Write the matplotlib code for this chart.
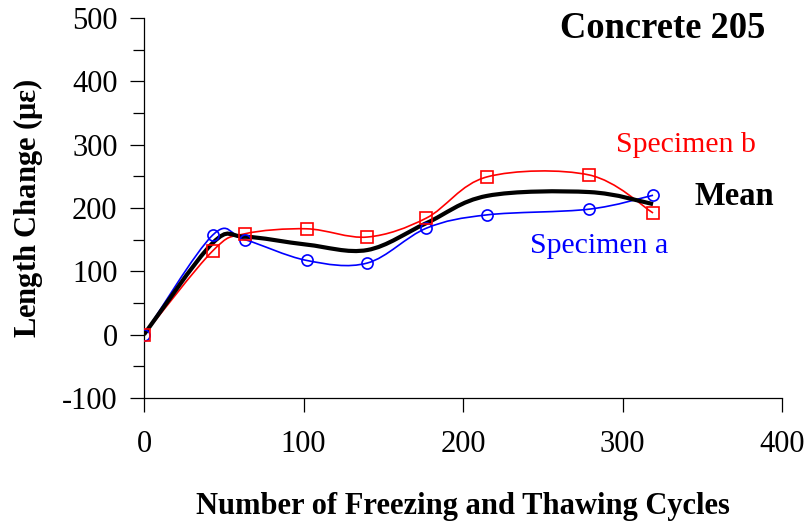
import matplotlib
matplotlib.use('Agg')
import matplotlib.pyplot as plt
import numpy as np
from matplotlib.path import Path
from matplotlib.patches import PathPatch

params = {'font.family': 'serif',
          'font.serif': ['Liberation Serif', 'DejaVu Serif'],
          'font.size': 22,
          'axes.unicode_minus': False,
          'mathtext.fontset': 'custom',
          'mathtext.rm': 'Liberation Serif',
          'mathtext.bf': 'Liberation Serif:bold'}
matplotlib.rcParams.update(params)

# freeze-thaw cycles and length change (microstrain)
cycles = [0, 43, 63, 102, 140, 177, 215, 279, 319]
spec_a = [0, 157, 150, 117, 113, 168, 189, 198, 220]
spec_b = [0, 132, 159, 167, 154, 184, 249, 252, 192]
mean = [(a + b) / 2 for a, b in zip(spec_a, spec_b)]

BLUE = (0.0, 0.0, 1.0)
RED = (1.0, 0.0, 0.0)


def smooth_path(x, y):
    # Bezier segments through every point (smoothed line style)
    pts = np.column_stack([x, y]).astype(float)
    n = len(pts)
    verts = [pts[0]]
    codes = [Path.MOVETO]
    for i in range(n - 1):
        p0 = pts[max(i - 1, 0)]
        p1 = pts[i]
        p2 = pts[i + 1]
        p3 = pts[min(i + 2, n - 1)]
        c1 = p1 + (p2 - p0) / 6.0
        c2 = p2 - (p3 - p1) / 6.0
        verts += [c1, c2, p2]
        codes += [Path.CURVE4] * 3
    return Path(verts, codes)


fig = plt.figure(figsize=(8.09, 5.27), dpi=100)
ax = fig.add_axes([0.178, 0.245, 0.789, 0.721])

ax.add_patch(PathPatch(smooth_path(cycles, spec_a), fill=False,
                       edgecolor=BLUE, lw=1.2, zorder=3))
ax.add_patch(PathPatch(smooth_path(cycles, spec_b), fill=False,
                       edgecolor=RED, lw=1.2, zorder=3))
ax.add_patch(PathPatch(smooth_path(cycles, mean), fill=False,
                       edgecolor='black', lw=3.0, zorder=4))

ax.plot(cycles, spec_a, linestyle='none', marker='o', ms=8,
        mfc='none', mec=BLUE, mew=1.2, zorder=5)
ax.plot(cycles, spec_b, linestyle='none', marker='s', ms=8,
        mfc='none', mec=RED, mew=1.2, zorder=5)

ax.set_xlim(0, 400)
ax.set_ylim(-100, 500)
ax.set_xticks([0, 100, 200, 300, 400])
ax.set_yticks([-100, 0, 100, 200, 300, 400, 500])
ax.yaxis.set_minor_locator(matplotlib.ticker.MultipleLocator(50))

for s in ['top', 'right']:
    ax.spines[s].set_visible(False)
ax.spines['left'].set_linewidth(0.9)
ax.spines['bottom'].set_linewidth(0.9)
ax.tick_params(axis='y', which='major', direction='out', length=10, width=0.9, pad=9)
ax.tick_params(axis='y', which='minor', direction='out', length=8, width=0.9)
ax.tick_params(axis='x', which='major', direction='out', length=10, width=0.9, pad=13)

ax.set_xlabel('Number of Freezing and Thawing Cycles', fontweight='bold', labelpad=24)
ax.set_ylabel(r'Length Change ($\mathbf{\mu\varepsilon}$)', fontweight='bold', labelpad=12)

ax.text(0.973, 0.947, 'Concrete 205', transform=ax.transAxes, ha='right', va='baseline',
        fontweight='bold', fontsize=26.3)
ax.text(296, 300, 'Specimen b', color=RED, ha='left', va='center', fontsize=21.5)
ax.text(242, 140, 'Specimen a', color=BLUE, ha='left', va='center', fontsize=21.5)
ax.text(345, 204, 'Mean', ha='left', va='baseline', fontweight='bold', fontsize=23.5)

plt.savefig('out.png', dpi=100)
